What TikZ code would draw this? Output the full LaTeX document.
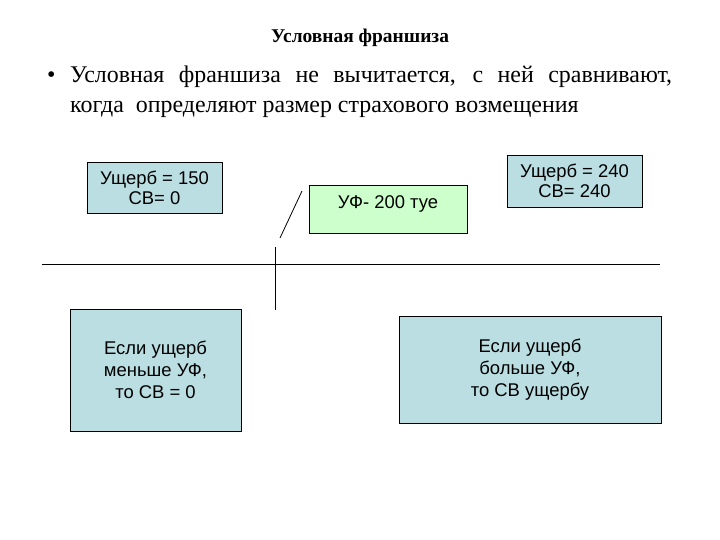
\documentclass[tikz,border=0pt]{standalone}
\usepackage{fontspec}
\setmainfont{Liberation Serif}
\setsansfont{Liberation Sans}
\usetikzlibrary{positioning}
\definecolor{paleblue}{RGB}{186,222,226}
\definecolor{palegreen}{RGB}{204,255,204}
\tikzset{
  heading/.style={
    font=\bfseries\fontsize{19.5}{23}\selectfont
  },
  point/.style={
    text width=602bp, align=justify, inner sep=0pt,
    font=\fontsize{24}{30}\selectfont
  },
  infobox/.style={
    draw, fill=paleblue, line width=0.8bp, inner sep=0pt,
    align=center, font=\sffamily\fontsize{18.5}{20}\selectfont
  },
  casebox/.style={
    infobox, font=\sffamily\fontsize{18.5}{22}\selectfont
  },
  franbox/.style={
    infobox, fill=palegreen
  },
  sepline/.style={line width=0.8bp}
}

\begin{document}
\begin{tikzpicture}[x=1bp, y=-1bp]
\useasboundingbox (0,0) rectangle (720,540);

% ---------- Heading and bullet ----------
\node[heading] (title) at (360,38) {Условная франшиза};
\node[point, anchor=north west] (rule) at (70,66)
  {\hyphenpenalty=10000\llap{\makebox[23bp][l]{\textbullet}}Условная франшиза не вычитается, с ней сравнивают, когда~ определяют размер страхового возмещения};

% ---------- Cases above the line ----------
\node[infobox, minimum width=135bp, minimum height=51bp] (low) at (154.5,187.5)
  {Ущерб = 150\\СВ= 0};
\node[franbox, minimum width=158bp, text height=24bp, text depth=24bp] (uf) at (388,209)
  {УФ- 200 туе};
\node[infobox, minimum width=135bp, minimum height=52bp] (high) at (574.5,181)
  {Ущерб = 240\\СВ= 240};

% ---------- Rules below the line ----------
\node[casebox, minimum width=171bp, minimum height=122bp] (less) at (155.5,370)
  {Если ущерб\\меньше УФ,\\то СВ = 0};
\node[casebox, minimum width=262bp, minimum height=107bp] (more) at (530,369.5)
  {Если ущерб\\больше УФ,\\то СВ ущербу};

% ---------- Axis and marker ----------
\coordinate (axisl) at (42,264);
\coordinate (axisr) at (660,264);
\coordinate (markt) at (275,247);
\coordinate (markb) at (275,310);
\coordinate (slantt) at (302,191);
\coordinate (slantb) at (280,238);
\draw[sepline] (axisl) -- (axisr);
\draw[sepline] (markt) -- (markb);
\draw[sepline] (slantb) -- (slantt);

\end{tikzpicture}
\end{document}
